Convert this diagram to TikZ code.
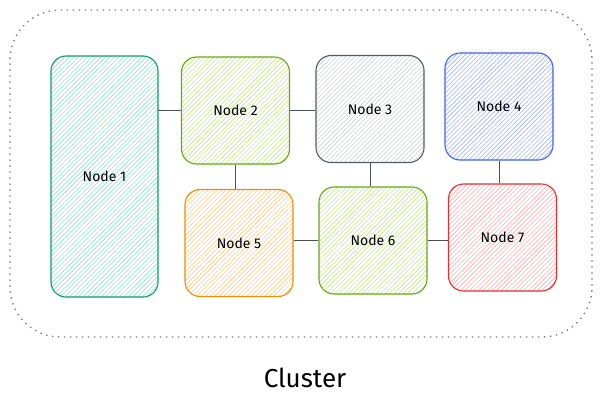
\documentclass[tikz,border=0pt]{standalone}
\usetikzlibrary{patterns.meta, positioning}
\usepackage{xcolor}
\usepackage{fontspec}
\setmainfont{Fira Sans}
\definecolor{tealline}{HTML}{0C9B6F}
\definecolor{tealfill}{HTML}{8FE3C6}
\definecolor{limeline}{HTML}{66A80F}
\definecolor{limefill}{HTML}{C3E88A}
\definecolor{grayline}{HTML}{555B61}
\definecolor{grayfill}{HTML}{CDD2D7}
\definecolor{blueline}{HTML}{4263EB}
\definecolor{bluefill}{HTML}{9EB1FF}
\definecolor{orangeline}{HTML}{F08C00}
\definecolor{orangefill}{HTML}{FFC98A}
\definecolor{redline}{HTML}{E03131}
\definecolor{redfill}{HTML}{FFABAB}
\definecolor{linkgray}{HTML}{495057}

\begin{document}
\begin{tikzpicture}[x=1pt,y=-1pt]
    \tikzstyle{box}=[rectangle, rounded corners=15pt, line width=1.1pt, inner sep=0pt, minimum width=108pt, minimum height=107pt, font=\fontsize{14}{17}\selectfont]
    \tikzstyle{teal box}=[box, draw=tealline, pattern={Lines[angle=45,distance=3.2pt,line width=0.6pt]}, pattern color=tealfill]
    \tikzstyle{lime box}=[box, draw=limeline, pattern={Lines[angle=45,distance=3.2pt,line width=0.6pt]}, pattern color=limefill]
    \tikzstyle{gray box}=[box, draw=grayline, pattern={Lines[angle=45,distance=3.2pt,line width=0.6pt]}, pattern color=grayfill]
    \tikzstyle{blue box}=[box, draw=blueline, pattern={Lines[angle=45,distance=3.2pt,line width=0.6pt]}, pattern color=bluefill]
    \tikzstyle{orange box}=[box, draw=orangeline, pattern={Lines[angle=45,distance=3.2pt,line width=0.6pt]}, pattern color=orangefill]
    \tikzstyle{red box}=[box, draw=redline, pattern={Lines[angle=45,distance=3.2pt,line width=0.6pt]}, pattern color=redfill]
    \tikzstyle{link}=[draw=linkgray, line width=0.9pt]
    \tikzstyle{cluster}=[rectangle, rounded corners=50pt, draw=gray, line width=1.4pt, dash pattern=on 1.4pt off 4.6pt, minimum width=582pt, minimum height=327pt]

    \useasboundingbox (0,0) rectangle (602,407);

    \node[cluster] (C) at (301,173.5) {};
    \node[font=\fontsize{26}{30}\selectfont] (L) at (305,378) {Cluster};

    \node[teal box, minimum width=107pt, minimum height=241pt] (N-1) at (104.5,176.5) {Node 1};
    \node[lime box] (N-2) at (235.5,110.5) {Node 2};
    \node[gray box] (N-3) at (370,109) {Node 3};
    \node[blue box] (N-4) at (499,106.5) {Node 4};
    \node[orange box] (N-5) at (239,243) {Node 5};
    \node[lime box] (N-6) at (373,240.5) {Node 6};
    \node[red box] (N-7) at (502.5,237.5) {Node 7};

    \draw[link] (N-1.east |- N-2.west) -- (N-2.west);
    \draw[link] (N-2.east) -- (N-2.east -| N-3.west);
    \draw[link] (N-2.south) -- (N-2.south |- N-5.north);
    \draw[link] (N-3.south) -- (N-3.south |- N-6.north);
    \draw[link] (N-4.south) -- (N-4.south |- N-7.north);
    \draw[link] (N-5.east |- N-6.west) -- (N-6.west);
    \draw[link] (N-6.east) -- (N-6.east -| N-7.west);
\end{tikzpicture}
\end{document}
